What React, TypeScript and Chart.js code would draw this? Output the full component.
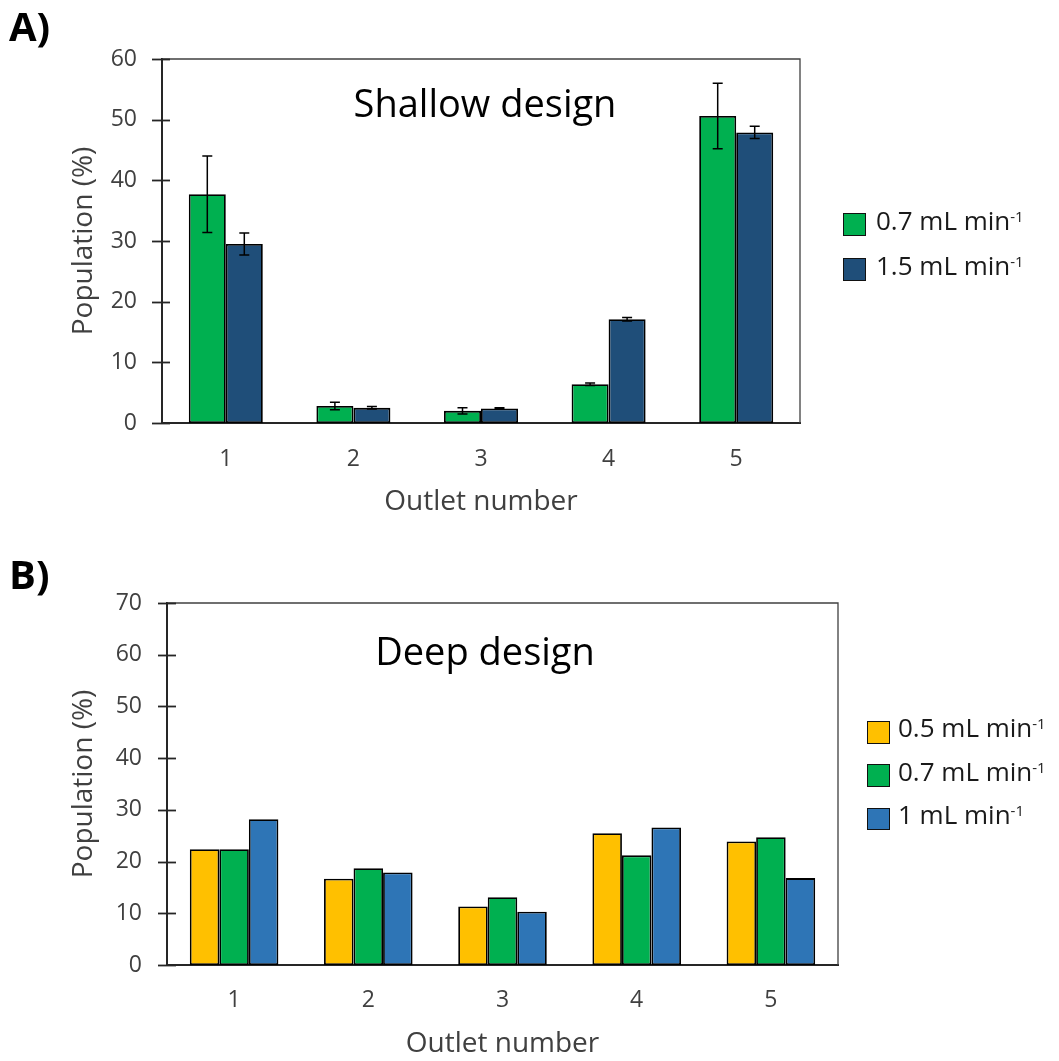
import React, { useEffect, useRef } from 'react';
import { Chart, registerables } from 'chart.js';

Chart.register(...registerables);

const FONT = "'Open Sans', sans-serif";

// ---------- data ----------
const categories = ['1', '2', '3', '4', '5'];

const shallowSeries = ['0.7 mL min', '1.5 mL min'];
const shallow07 = [37.7, 2.8, 2.0, 6.4, 50.6];
const shallow07Err = [6.3, 0.6, 0.5, 0.2, 5.4];
const shallow15 = [29.5, 2.5, 2.4, 17.1, 47.9];
const shallow15Err = [1.8, 0.2, 0.1, 0.3, 1.0];
const shallowColors = ['#00B050', '#1F4E79'];
const shallowYTicks = [0, 10, 20, 30, 40, 50, 60];

const deepSeries = ['0.5 mL min', '0.7 mL min', '1 mL min'];
const deep05 = [22.4, 16.7, 11.3, 25.5, 23.9];
const deep07 = [22.4, 18.7, 13.1, 21.2, 24.7];
const deep10 = [28.2, 17.9, 10.3, 26.6, 16.8];
const deepColors = ['#FFC000', '#00B050', '#2E75B6'];
const deepYTicks = [0, 10, 20, 30, 40, 50, 60, 70];

// ---------- plugins ----------
function makeFramePlugin(tickOut: number, tickIn: number) {
  return {
    id: 'frameTicks',
    afterDraw(chart: any) {
      const { ctx, chartArea: a, scales } = chart;
      const y = scales.y;
      ctx.save();
      ctx.strokeStyle = '#404040';
      ctx.lineWidth = 1.3;
      ctx.beginPath();
      ctx.moveTo(a.left, a.top);
      ctx.lineTo(a.right, a.top);
      ctx.lineTo(a.right, a.bottom);
      ctx.stroke();
      ctx.strokeStyle = '#262626';
      ctx.lineWidth = 1.8;
      y.ticks.forEach((_t: any, i: number) => {
        const py = Math.round(y.getPixelForTick(i)) + 0.5;
        ctx.beginPath();
        ctx.moveTo(a.left - tickOut, py);
        ctx.lineTo(a.left + tickIn, py);
        ctx.stroke();
      });
      ctx.restore();
    },
  };
}

const errorBarsPlugin = {
  id: 'errorBars',
  afterDatasetsDraw(chart: any) {
    const { ctx } = chart;
    const y = chart.scales.y;
    ctx.save();
    ctx.strokeStyle = '#000';
    ctx.lineWidth = 1.5;
    chart.data.datasets.forEach((ds: any, di: number) => {
      const e = ds.errorBars;
      if (!e) return;
      const meta = chart.getDatasetMeta(di);
      meta.data.forEach((bar: any, j: number) => {
        const v = ds.data[j];
        const x = bar.x;
        const yt = y.getPixelForValue(v + e[j]);
        const yb = y.getPixelForValue(v - e[j]);
        ctx.beginPath();
        ctx.moveTo(x, yt);
        ctx.lineTo(x, yb);
        ctx.moveTo(x - 5, yt);
        ctx.lineTo(x + 5, yt);
        ctx.moveTo(x - 5, yb);
        ctx.lineTo(x + 5, yb);
        ctx.stroke();
      });
    });
    ctx.restore();
  },
};

// ---------- options ----------
type P = {
  yTicks: number[];
  padTop: number;
  padRight: number;
  yWidth: number;
  xHeight: number;
  xLabelPad: number;
  xTitlePad: number;
  yTitlePad: number;
};

function makeOptions(p: P): any {
  return {
    responsive: false,
    animation: false,
    layout: { padding: { left: 0, top: p.padTop, right: p.padRight, bottom: 0 } },
    plugins: { legend: { display: false }, tooltip: { enabled: false } },
    scales: {
      x: {
        grid: { display: false, drawTicks: false },
        border: { display: true, color: '#262626', width: 2 },
        ticks: { color: '#404040', font: { family: FONT, size: 23 }, padding: p.xLabelPad },
        title: {
          display: true,
          text: 'Outlet number',
          color: '#404040',
          font: { family: FONT, size: 28 },
          padding: { top: 0, bottom: p.xTitlePad },
        },
        afterFit: (s: any) => {
          s.height = p.xHeight;
        },
      },
      y: {
        min: p.yTicks[0],
        max: p.yTicks[p.yTicks.length - 1],
        grid: { display: false, drawTicks: false },
        border: { display: true, color: '#262626', width: 2 },
        ticks: {
          stepSize: p.yTicks[1] - p.yTicks[0],
          color: '#404040',
          font: { family: FONT, size: 23 },
          padding: 25,
        },
        title: {
          display: true,
          text: 'Population (%)',
          color: '#404040',
          font: { family: FONT, size: 28 },
          padding: { top: p.yTitlePad, bottom: 0 },
        },
        afterFit: (s: any) => {
          s.width = p.yWidth;
        },
      },
    },
  };
}

function BarChart({ width, height, data, options, plugins }: any) {
  const ref = useRef<HTMLCanvasElement>(null);
  useEffect(() => {
    const chart = new Chart(ref.current as HTMLCanvasElement, { type: 'bar', data, options, plugins });
    return () => chart.destroy();
  }, []);
  return <canvas ref={ref} width={width} height={height} style={{ display: 'block', width, height }} />;
}

function Txt({ x, base, size, children, bold, align, color }: any) {
  const top = base - 0.888 * size;
  const center = align === 'center';
  return (
    <div
      style={{
        position: 'absolute',
        left: center ? x - 300 : x,
        width: center ? 600 : undefined,
        textAlign: center ? 'center' : 'left',
        top,
        fontSize: size,
        lineHeight: size + 'px',
        fontFamily: FONT,
        fontWeight: bold ? 700 : 400,
        color: color || '#000',
        whiteSpace: 'nowrap',
      }}
    >
      {children}
    </div>
  );
}

function LegendItem({ sx, sy, size, tx, base, color, label }: any) {
  return (
    <>
      <div
        style={{
          position: 'absolute',
          left: sx,
          top: sy,
          width: size,
          height: size,
          boxSizing: 'border-box',
          border: '1.8px solid #111',
          background: color,
        }}
      />
      <Txt x={tx} base={base} size={26} color="#1a1a1a">
        {label}
        <span style={{ fontSize: 15, position: 'relative', top: -8 }}>-1</span>
      </Txt>
    </>
  );
}

export default function App() {
  const shallowData = {
    labels: categories,
    datasets: [
      { label: shallowSeries[0], data: shallow07, errorBars: shallow07Err, backgroundColor: shallowColors[0] },
      { label: shallowSeries[1], data: shallow15, errorBars: shallow15Err, backgroundColor: shallowColors[1] },
    ].map((d) => ({ ...d, borderColor: '#000', borderWidth: 1.8, borderSkipped: false, categoryPercentage: 0.58, barPercentage: 1 })),
  };
  const deepData = {
    labels: categories,
    datasets: [
      { label: deepSeries[0], data: deep05, backgroundColor: deepColors[0] },
      { label: deepSeries[1], data: deep07, backgroundColor: deepColors[1] },
      { label: deepSeries[2], data: deep10, backgroundColor: deepColors[2] },
    ].map((d) => ({ ...d, borderColor: '#000', borderWidth: 1.8, borderSkipped: false, categoryPercentage: 0.66, barPercentage: 1 })),
  };

  const shallowOpts = makeOptions({
    yTicks: shallowYTicks,
    padTop: 59,
    padRight: 259,
    yWidth: 162,
    xHeight: 107,
    xLabelPad: 23,
    xTitlePad: 11,
    yTitlePad: 67,
  });
  const deepOpts = makeOptions({
    yTicks: deepYTicks,
    padTop: 63,
    padRight: 221,
    yWidth: 167,
    xHeight: 96,
    xLabelPad: 22,
    xTitlePad: 0,
    yTitlePad: 67,
  });

  return (
    <div style={{ position: 'absolute', left: 0, top: 0, width: 1059, height: 1061, overflow: 'hidden', background: '#fff' }}>
      <div style={{ position: 'absolute', left: 0, top: 0 }}>
        <BarChart width={1059} height={530} data={shallowData} options={shallowOpts} plugins={[makeFramePlugin(10, 8), errorBarsPlugin]} />
      </div>
      <div style={{ position: 'absolute', left: 0, top: 540 }}>
        <BarChart width={1059} height={521} data={deepData} options={deepOpts} plugins={[makeFramePlugin(9, 9)]} />
      </div>

      <Txt x={9} base={42} size={40} bold>A)</Txt>
      <Txt x={9} base={590} size={40} bold>B)</Txt>

      <Txt x={485} base={117} size={38} align="center">Shallow design</Txt>
      <Txt x={485} base={665} size={38} align="center">Deep design</Txt>

      {shallowSeries.map((s, i) => (
        <LegendItem key={s} sx={843} sy={213 + i * 45} size={23} tx={876} base={230 + i * 45} color={shallowColors[i]} label={s} />
      ))}
      {deepSeries.map((s, i) => (
        <LegendItem key={s} sx={867} sy={721 + i * 43.3} size={22.6} tx={898} base={737.5 + i * 43.3} color={deepColors[i]} label={s} />
      ))}
    </div>
  );
}
